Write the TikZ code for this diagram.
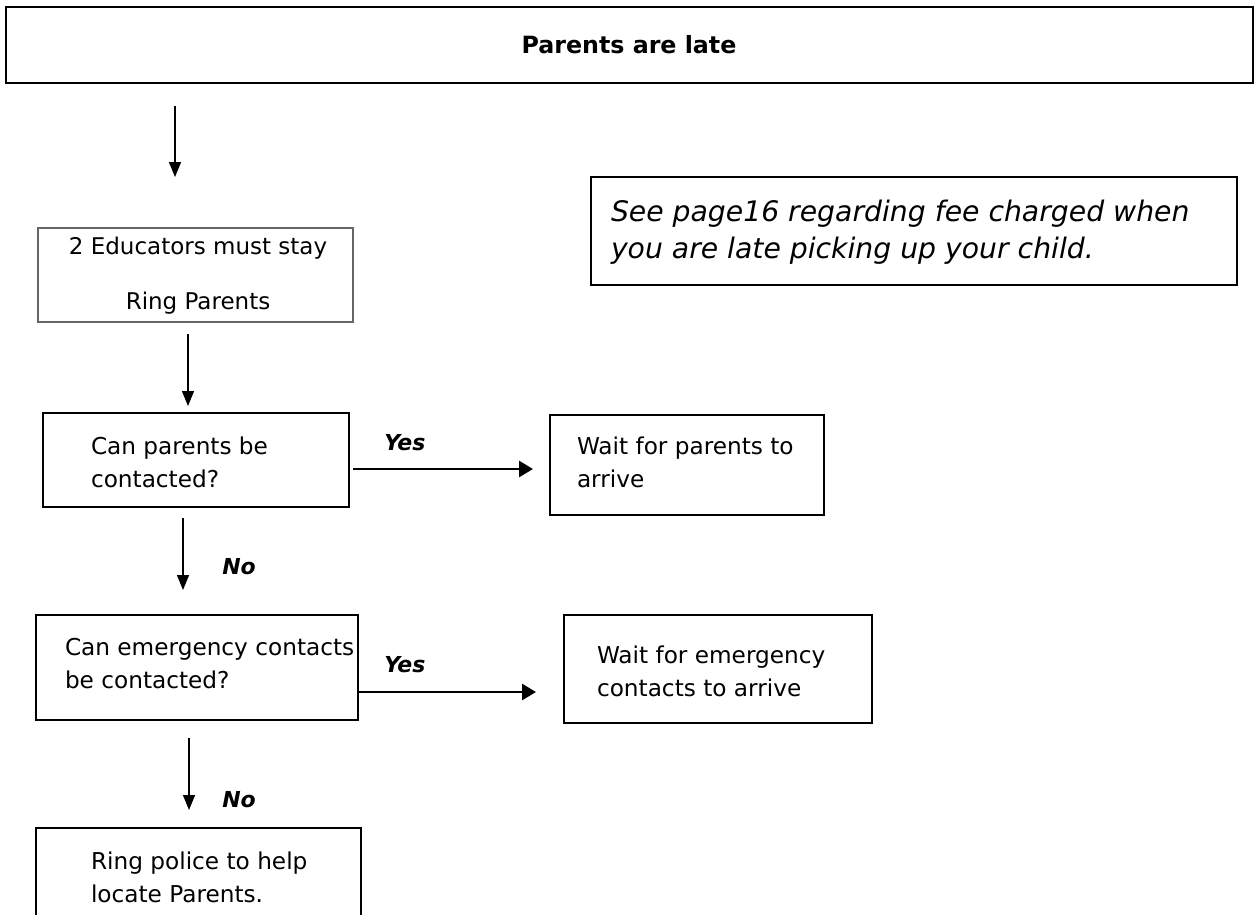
\documentclass[tikz,border=0pt]{standalone}
\usepackage{fontspec}
\setmainfont{DejaVu Sans}
\usetikzlibrary{arrows.meta}
\tikzset{
  box/.style={draw=black, line width=1.1pt, inner sep=0pt, outer sep=0pt},
  heavybox/.style={box, line width=1.6pt},
  greybox/.style={draw=black!60, line width=0.9pt, inner sep=0pt, outer sep=0pt},
  txt/.style={inner sep=0pt, outer sep=0pt, align=left, font=\fontsize{17.4}{24.75}\selectfont},
  ctxt/.style={inner sep=0pt, outer sep=0pt, align=center, font=\fontsize{17.25}{41.25}\selectfont},
  notetxt/.style={inner sep=0pt, outer sep=0pt, align=left, font=\fontsize{21.2}{28.1}\selectfont\itshape},
  titletxt/.style={inner sep=0pt, font=\fontsize{17.8}{20}\selectfont\bfseries},
  yn/.style={inner sep=0pt, font=\fontsize{16.5}{18}\selectfont\bfseries\itshape},
  varrow/.style={line width=1pt, -{Triangle[length=11.25pt, width=9pt]}},
  harrow/.style={line width=2pt, -{Triangle[length=10.5pt, width=12pt]}}
}
\begin{document}
\begin{tikzpicture}[x=0.75pt, y=-0.75pt]
\useasboundingbox[fill=white] (0,0) rectangle (1255,914);
% boxes
\node[heavybox, minimum width={1247*0.75pt}, minimum height={76*0.75pt}] (title) at (629.5,45) {};
\node[titletxt] (titlet) at (629,45) {Parents are late};
\node[heavybox, minimum width={646*0.75pt}, minimum height={108*0.75pt}] (note) at (914,231) {};
\node[notetxt, anchor=west] (notet) at (611,232) {See page16 regarding fee charged when\\you are late picking up your child.};
\node[greybox, minimum width={315*0.75pt}, minimum height={94*0.75pt}] (educ) at (195.5,275) {};
\node[ctxt] (educt) at (198,276) {2 Educators must stay\\Ring Parents};
\node[box, minimum width={306*0.75pt}, minimum height={94*0.75pt}] (canp) at (196,460) {};
\node[txt, anchor=west] (canpt) at (91,462) {Can parents be\\contacted?};
\node[box, minimum width={274*0.75pt}, minimum height={100*0.75pt}] (waitp) at (687,465) {};
\node[txt, anchor=west] (waitpt) at (577,462) {Wait for parents to\\arrive};
\node[box, minimum width={322*0.75pt}, minimum height={105*0.75pt}] (cane) at (197,667.5) {};
\node[txt, anchor=west] (canet) at (65,664) {Can emergency contacts\\be contacted?};
\node[box, minimum width={308*0.75pt}, minimum height={108*0.75pt}] (waite) at (718,669) {};
\node[txt, anchor=west] (waitet) at (597,671) {Wait for emergency\\contacts to arrive};
\node[box, minimum width={325*0.75pt}, minimum height={112*0.75pt}] (ring) at (198.5,884) {};
\node[txt, anchor=west] (ringt) at (91,877) {Ring police to help\\locate Parents.};
% arrow end points
\coordinate (a1s) at (175,106); \coordinate (a1e) at (175,177);
\coordinate (a2s) at (188,334); \coordinate (a2e) at (188,406);
\coordinate (a3s) at (183,518); \coordinate (a3e) at (183,590);
\coordinate (a4s) at (189,738); \coordinate (a4e) at (189,810);
\coordinate (y1s) at (353,469); \coordinate (y1e) at (533,469);
\coordinate (y2e) at (536,692);
\draw[varrow] (a1s) -- (a1e);
\draw[varrow] (a2s) -- (a2e);
\draw[varrow] (a3s) -- (a3e);
\draw[varrow] (a4s) -- (a4e);
\draw[harrow] (y1s) -- (y1e);
\draw[harrow] (cane.east |- y2e) -- (y2e);
% labels
\node[yn, anchor=west] (no1) at (222,567) {No};
\node[yn, anchor=west] (no2) at (222,800) {No};
\node[yn, anchor=west] (yes1) at (384,443) {Yes};
\node[yn, anchor=west] (yes2) at (384,665) {Yes};
\end{tikzpicture}
\end{document}
